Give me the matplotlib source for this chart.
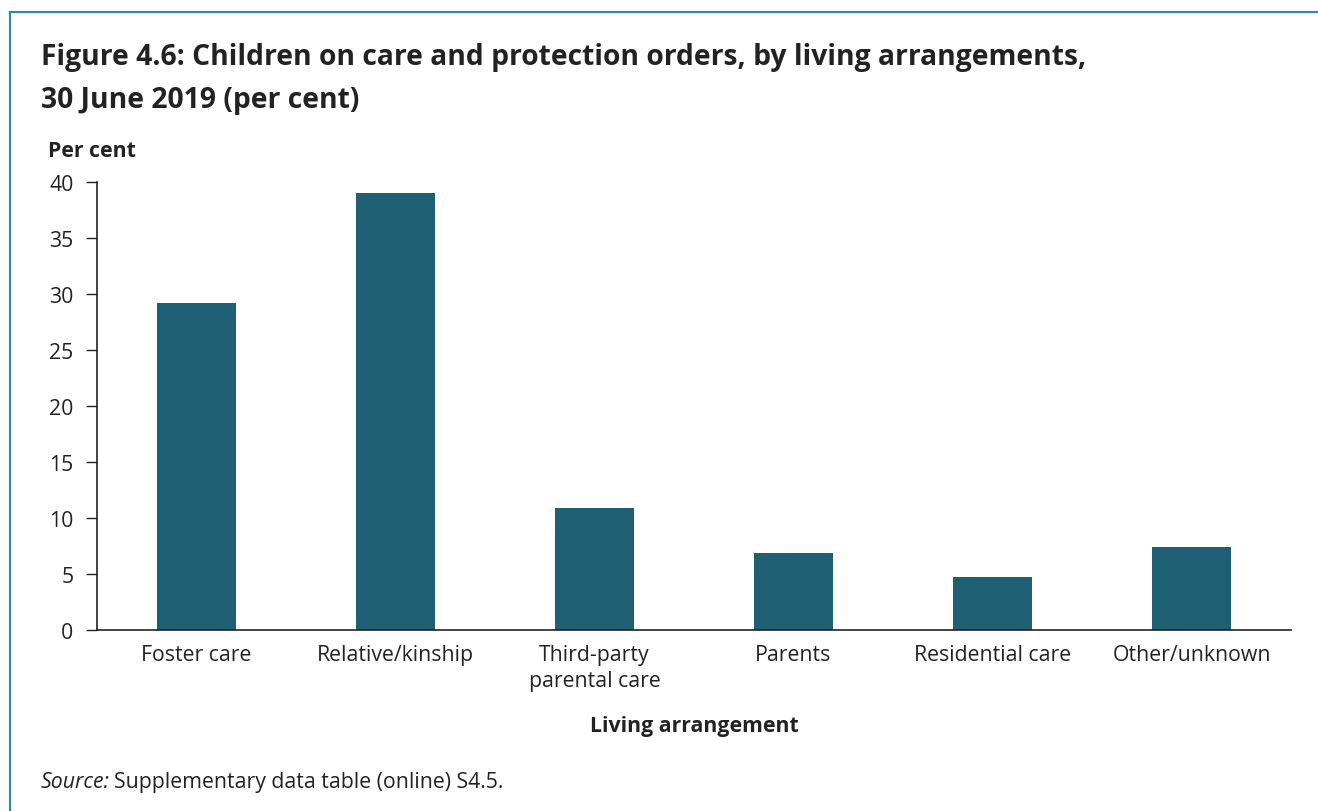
import matplotlib
matplotlib.use('Agg')
import matplotlib.pyplot as plt
from matplotlib.lines import Line2D

plt.rcParams['font.family'] = ['Open Sans', 'DejaVu Sans']

categories = ['Foster care', 'Relative/kinship', 'Third-party\nparental care',
              'Parents', 'Residential care', 'Other/unknown']
per_cent   = [29.2, 39.0, 10.9, 6.9, 4.7, 7.4]
yticks     = [0, 5, 10, 15, 20, 25, 30, 35, 40]

W, H = 1318, 812
bar_col  = '#1e5f74'
text_col = '#222222'
edge_col = '#2a8aa7'
fs = 15.3

fig = plt.figure(figsize=(W / 100, H / 100), dpi=100)

# frame: teal rule along the top and down the left side
fig.add_artist(Line2D([10 / W, 1], [1 - 13 / H, 1 - 13 / H], color=edge_col, lw=1.5))
fig.add_artist(Line2D([10 / W, 10 / W], [0, 1 - 13 / H], color=edge_col, lw=1.5))

ax = fig.add_axes((97 / W, 1 - 631 / H, (1291 - 97) / W, (631 - 183) / H))
xs = list(range(len(categories)))
ax.bar(xs, per_cent, width=0.4, color=bar_col, zorder=2)

ax.set_xlim(-0.5, len(categories) - 0.5)
ax.set_ylim(0, 40)
ax.set_yticks(yticks)
ax.set_xticks(xs)
ax.set_xticklabels(categories, fontsize=fs, color=text_col, linespacing=1.35)
ax.tick_params(axis='x', length=0, pad=10)
ax.tick_params(axis='y', length=8, width=1, pad=9, labelsize=fs,
               labelcolor=text_col, color=text_col)
for s in ['top', 'right']:
    ax.spines[s].set_visible(False)
ax.spines['left'].set_color(text_col)
ax.spines['bottom'].set_color(text_col)
ax.spines['left'].set_linewidth(1.2)
ax.spines['bottom'].set_linewidth(1.2)

fig.text(41 / W, 1 - 65 / H, 'Figure 4.6: Children on care and protection orders, by living arrangements,',
         fontsize=20.3, fontweight='bold', color=text_col, va='baseline')
fig.text(41 / W, 1 - 108 / H, '30 June 2019 (per cent)',
         fontsize=20.3, fontweight='bold', color=text_col, va='baseline')
fig.text(48 / W, 1 - 157 / H, 'Per cent', fontsize=fs, fontweight='bold',
         color=text_col, va='baseline')
fig.text(694 / W, 1 - 732 / H, 'Living arrangement', fontsize=fs, fontweight='bold',
         color=text_col, va='baseline', ha='center')
fig.text(41 / W, 1 - 788 / H, 'Source:', fontsize=fs, fontstyle='italic',
         color=text_col, va='baseline')
fig.text(114 / W, 1 - 788 / H, 'Supplementary data table (online) S4.5.', fontsize=fs,
         color=text_col, va='baseline')

fig.savefig('out.png', dpi=100)
plt.close(fig)
